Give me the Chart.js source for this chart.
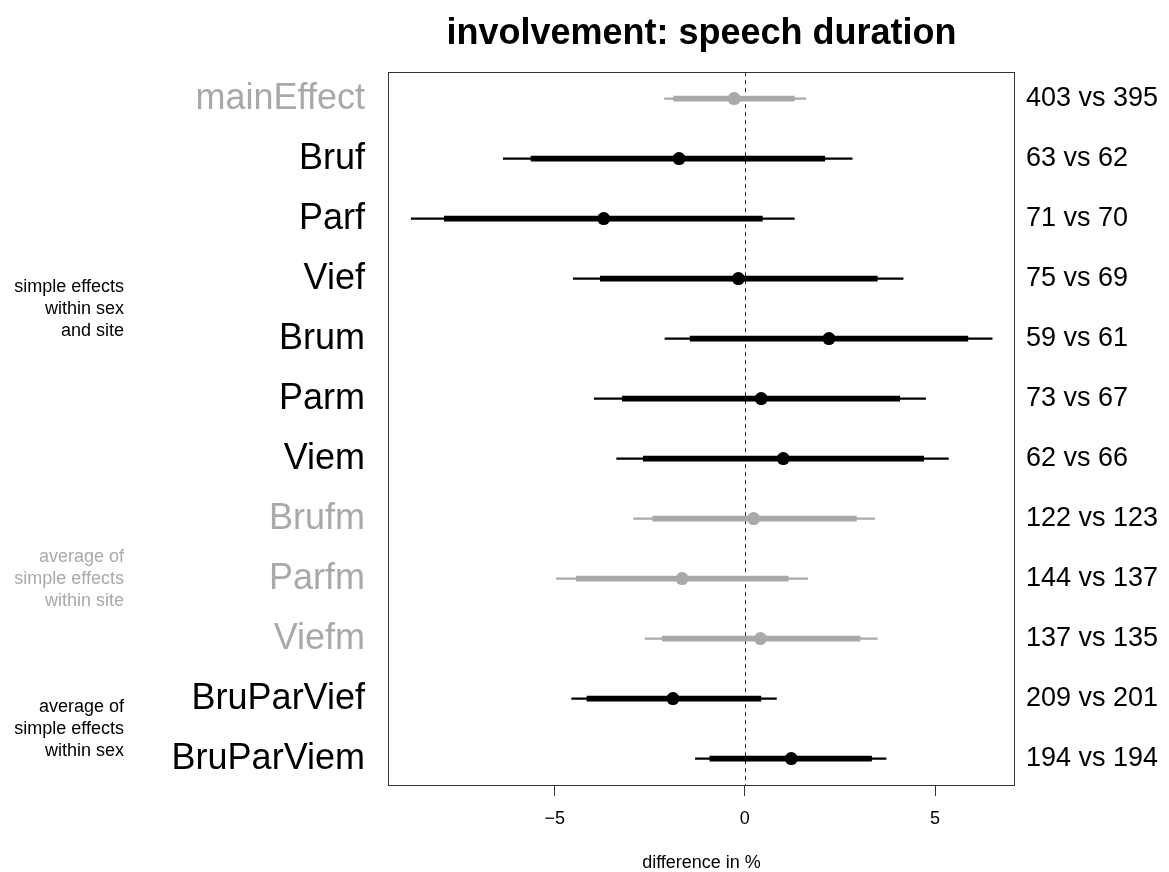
<!DOCTYPE html>
<html lang="en">
<head>
<meta charset="UTF-8">
<title>involvement: speech duration</title>
<script src="https://cdn.jsdelivr.net/npm/chart.js"></script>
<style>
  body { margin: 0; background: #fff; }
  .grafico { width: 1169px; height: 872px; }
</style>
</head>
<body>

<div class="grafico"><canvas id="forest"></canvas></div>

<script>
    // rows, top to bottom
    const categories = ['mainEffect', 'Bruf', 'Parf', 'Vief', 'Brum', 'Parm', 'Viem',
        'Brufm', 'Parfm', 'Viefm', 'BruParVief', 'BruParViem'];
    const comparisons = ['403 vs 395', '63 vs 62', '71 vs 70', '75 vs 69', '59 vs 61', '73 vs 67',
        '62 vs 66', '122 vs 123', '144 vs 137', '137 vs 135', '209 vs 201', '194 vs 194'];
    const estimate = [-0.28, -1.73, -3.71, -0.17, 2.21, 0.43, 1.01, 0.23, -1.65, 0.41, -1.89, 1.22];
    const outerLow = [-2.11, -6.35, -8.77, -4.51, -2.10, -3.96, -3.37, -2.92, -4.95, -2.62, -4.55, -1.30];
    const outerHigh = [1.60, 2.82, 1.30, 4.16, 6.50, 4.75, 5.35, 3.41, 1.65, 3.48, 0.83, 3.71];
    const innerLow = [-1.87, -5.62, -7.90, -3.80, -1.44, -3.22, -2.67, -2.42, -4.43, -2.17, -4.15, -0.92];
    const innerHigh = [1.30, 2.10, 0.46, 3.48, 5.86, 4.07, 4.70, 2.93, 1.14, 3.03, 0.42, 3.33];
    const muted = [true, false, false, false, false, false, false, true, true, true, false, false];
    const xTicks = [-5, 0, 5];

    // group notes on the far left
    const groupLabels = [
        ['simple effects', 'within sex', 'and site'],
        ['average of', 'simple effects', 'within site'],
        ['average of', 'simple effects', 'within sex']
    ];
    const groupFirst = [1, 7, 10];
    const groupLast = [6, 9, 11];
    const groupMuted = [false, true, false];

    const FONTE = '"Liberation Sans", Arial, Helvetica, sans-serif';
    const PRETO = '#000000';
    const CINZA = '#a9a9a9';
    const corLinha = muted.map(m => m ? CINZA : PRETO);

    const molduraPlugin = {
        id: 'moldura',
        beforeDatasetsDraw(chart) {
            const ctx = chart.ctx;
            const area = chart.chartArea;
            const x0 = Math.round(chart.scales.x.getPixelForValue(0)) + 0.5;
            ctx.save();
            ctx.strokeStyle = '#222';
            ctx.lineWidth = 1;
            ctx.setLineDash([4, 4]);
            ctx.beginPath();
            ctx.moveTo(x0, area.top);
            ctx.lineTo(x0, area.bottom);
            ctx.stroke();
            ctx.restore();
        },
        afterDraw(chart) {
            const ctx = chart.ctx;
            const area = chart.chartArea;
            const y = chart.scales.y;
            ctx.save();
            ctx.strokeStyle = '#333';
            ctx.lineWidth = 1;
            ctx.strokeRect(Math.round(area.left) + 0.5, Math.round(area.top) + 0.5,
                Math.round(area.right - area.left) - 1, Math.round(area.bottom - area.top));

            ctx.font = '18px ' + FONTE;
            ctx.textAlign = 'right';
            ctx.textBaseline = 'middle';
            for (let g = 0; g < groupLabels.length; g++) {
                const centro = (y.getPixelForValue(groupFirst[g]) + y.getPixelForValue(groupLast[g])) / 2;
                ctx.fillStyle = groupMuted[g] ? CINZA : PRETO;
                const linhas = groupLabels[g];
                for (let k = 0; k < linhas.length; k++) {
                    ctx.fillText(linhas[k], 124, centro + (k - (linhas.length - 1) / 2) * 22);
                }
            }
            ctx.restore();
        }
    };

    const ctx = document.getElementById('forest').getContext('2d');
    const grafico = new Chart(ctx, {
        type: 'bar',
        data: {
            datasets: [
                {
                    type: 'scatter',
                    data: estimate.map((v, i) => ({ x: v, y: i })),
                    pointRadius: 6.5,
                    pointBackgroundColor: corLinha,
                    pointBorderWidth: 0,
                    order: 0
                },
                {
                    data: innerLow.map((v, i) => ({ x: [v, innerHigh[i]], y: i })),
                    backgroundColor: corLinha,
                    barThickness: 5,
                    grouped: false,
                    borderWidth: 0,
                    order: 1
                },
                {
                    data: outerLow.map((v, i) => ({ x: [v, outerHigh[i]], y: i })),
                    backgroundColor: corLinha,
                    barThickness: 1.5,
                    grouped: false,
                    borderWidth: 0,
                    order: 2
                }
            ]
        },
        options: {
            indexAxis: 'y',
            responsive: true,
            maintainAspectRatio: false,
            animation: false,
            layout: { padding: 0 },
            plugins: {
                legend: { display: false },
                tooltip: { enabled: false },
                title: {
                    display: true,
                    fullSize: false,
                    text: 'involvement: speech duration',
                    color: PRETO,
                    font: { family: FONTE, size: 36, weight: 'bold', lineHeight: 1.2 },
                    padding: { top: 12, bottom: 17 }
                }
            },
            scales: {
                x: {
                    type: 'linear',
                    min: -9.38,
                    max: 7.1,
                    offset: false,
                    afterBuildTicks: s => { s.ticks = xTicks.map(v => ({ value: v })); },
                    afterFit: s => { s.height = 87; },
                    border: { display: false },
                    grid: { drawOnChartArea: false, drawTicks: true, tickLength: 11, color: '#333' },
                    ticks: {
                        color: PRETO,
                        padding: 12,
                        font: { family: FONTE, size: 18 },
                        callback: v => String(v).replace('-', '\u2212')
                    },
                    title: {
                        display: true,
                        text: 'difference in %',
                        color: PRETO,
                        font: { family: FONTE, size: 18, lineHeight: 1 },
                        padding: { top: 0, bottom: 0 }
                    }
                },
                y: {
                    type: 'linear',
                    position: 'left',
                    reverse: true,
                    min: -0.44,
                    max: 11.44,
                    offset: false,
                    afterBuildTicks: s => { s.ticks = categories.map((c, i) => ({ value: i })); },
                    afterFit: s => { s.width = 388; },
                    border: { display: false },
                    grid: { display: false, drawTicks: false },
                    ticks: {
                        padding: 23,
                        font: { family: FONTE, size: 36 },
                        color: c => corLinha[c.tick.value],
                        callback: v => categories[v]
                    }
                },
                y2: {
                    type: 'linear',
                    position: 'right',
                    reverse: true,
                    min: -0.44,
                    max: 11.44,
                    offset: false,
                    afterBuildTicks: s => { s.ticks = comparisons.map((c, i) => ({ value: i })); },
                    afterFit: s => { s.width = 154; },
                    border: { display: false },
                    grid: { display: false, drawTicks: false },
                    ticks: {
                        padding: 11,
                        font: { family: FONTE, size: 27 },
                        color: PRETO,
                        callback: v => comparisons[v]
                    }
                }
            }
        },
        plugins: [molduraPlugin]
    });
</script>

</body>
</html>
